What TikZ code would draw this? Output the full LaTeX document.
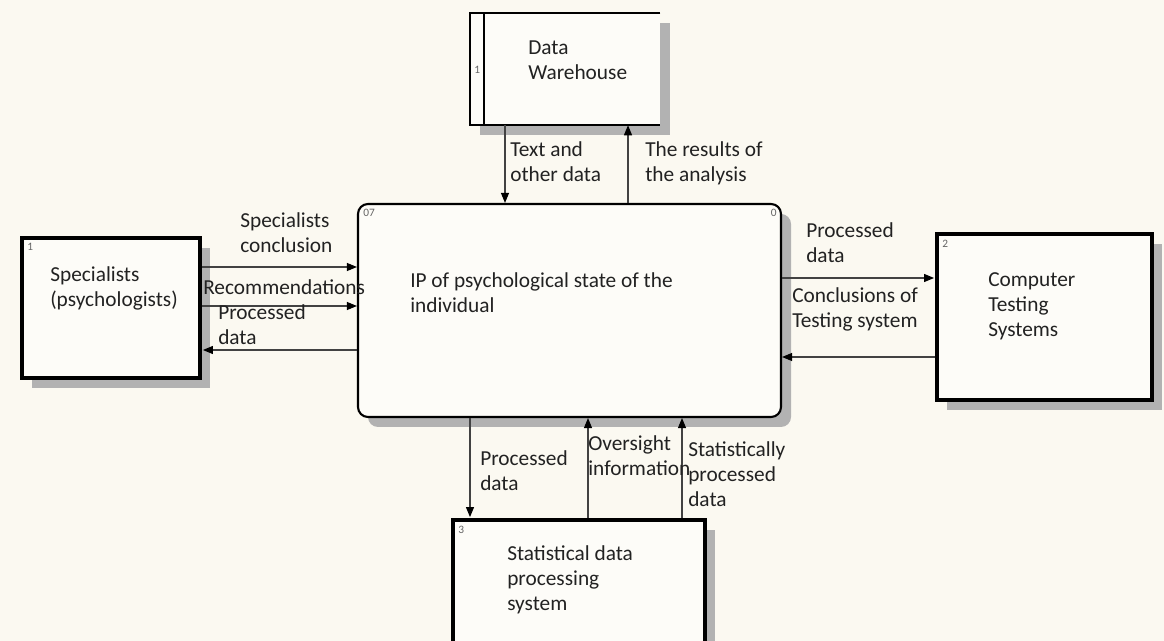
\documentclass[tikz,border=0pt]{standalone}
\usepackage{fontspec}
\setmainfont{Carlito}
\usetikzlibrary{arrows.meta,fit,shadows}
\definecolor{paper}{RGB}{251,249,241}
\definecolor{boxfill}{RGB}{253,252,248}
\definecolor{ink}{RGB}{34,34,34}
\definecolor{flowcol}{RGB}{66,66,66}
\definecolor{shade}{RGB}{178,178,178}
\definecolor{idcol}{RGB}{100,100,100}
\begin{document}
\begin{tikzpicture}[x=0.75pt,y=-0.75pt,
  boxshadow/.style={drop shadow={shadow xshift=7.5pt,shadow yshift=-7.5pt,fill=shade,opacity=1}},
  extbox/.style={inner sep=0pt,draw=black,line width=2.4pt,fill=boxfill,boxshadow},
  procbox/.style={inner sep=0pt,draw=black,line width=1.6pt,fill=boxfill,rounded corners=7.5pt,boxshadow},
  storebox/.style={inner sep=0pt,fill=boxfill,boxshadow},
  storeline/.style={draw=black,line width=1.2pt},
  flow/.style={draw=flowcol,line width=0.8pt,-{Triangle[length=7.5pt,width=6pt,color=black]}},
  % multi-line texts: the base anchor sits on the last line
  txt/.style={anchor=base west,inner sep=0pt,align=left,text=ink,font=\fontsize{16}{18.75}\selectfont},
  idtxt/.style={anchor=north west,inner sep=0pt,text=idcol,font=\fontsize{8.5}{9}\selectfont}]

% canvas
\useasboundingbox (0,0) rectangle (1164,641);
\clip (0,0) rectangle (1164,641);
\fill[paper] (0,0) rectangle (1164,641);

% corner points of the boxes
\coordinate (dwA) at (470,13);   \coordinate (dwB) at (660,125);
\coordinate (mnA) at (358,204);  \coordinate (mnB) at (781,417);
\coordinate (spA) at (22,238);   \coordinate (spB) at (200,378);
\coordinate (ctA) at (937,234);  \coordinate (ctB) at (1152,400);
\coordinate (stA) at (453,520);  \coordinate (stB) at (705,690);

% boxes
\node[storebox,fit=(dwA)(dwB)] (dw) {};
\draw[storeline] (dw.north east) -- (dw.north west) -- (dw.south west) -- (dw.south east);
\coordinate (dwx) at (484,0);
\draw[storeline] (dwx |- dw.north) -- (dwx |- dw.south);
\node[idtxt,anchor=west] (dwid) at (474,70) {1};
\node[txt] (dwtext) at (528,80) {Data\\Warehouse};

\node[procbox,fit=(mnA)(mnB)] (main) {};
\node[idtxt] (mainidl) at (363,209) {07};
\node[idtxt,anchor=north east] (mainidr) at (777,209) {0};
\node[txt] (maintext) at (410,313) {IP of psychological state of the\\individual};

\node[extbox,fit=(spA)(spB)] (spec) {};
\node[idtxt] (specid) at (27,243) {1};
\node[txt] (spectext) at (50,307) {Specialists\\(psychologists)};

\node[extbox,fit=(ctA)(ctB)] (cts) {};
\node[idtxt] (ctsid) at (942,240) {2};
\node[txt] (ctstext) at (988,337) {Computer\\Testing\\Systems};

\node[extbox,fit=(stA)(stB)] (stat) {};
\node[idtxt] (statid) at (458,526) {3};
\node[txt] (stattext) at (507,610) {Statistical data\\processing\\system};

% connector positions
\coordinate (xin)   at (505,0);
\coordinate (xout)  at (628,0);
\coordinate (ysc)   at (0,267);
\coordinate (yrec)  at (0,306);
\coordinate (yspd)  at (0,350);
\coordinate (ycpd)  at (0,278);
\coordinate (ycon)  at (0,357);
\coordinate (xspd)  at (470,0);
\coordinate (xovr)  at (588,0);
\coordinate (xstp)  at (682,0);

% connectors
\draw[flow] (xin |- dw.south) -- (xin |- main.north);
\draw[flow] (xout |- main.north) -- (xout |- dw.south);
\draw[flow] (spec.east |- ysc) -- (main.west |- ysc);
\draw[flow] (spec.east |- yrec) -- (main.west |- yrec);
\draw[flow] (main.west |- yspd) -- ([xshift=1pt]spec.east |- yspd);
\draw[flow] (main.east |- ycpd) -- ([xshift=-1pt]cts.west |- ycpd);
\draw[flow] (cts.west |- ycon) -- (main.east |- ycon);
\draw[flow] (xspd |- main.south) -- ([yshift=1pt]xspd |- stat.north);
\draw[flow] (xovr |- stat.north) -- (xovr |- main.south);
\draw[flow] (xstp |- stat.north) -- (xstp |- main.south);

% connector labels
\node[txt] (lin)  at (510,182) {Text and\\other data};
\node[txt] (lout) at (645,182) {The results of\\the analysis};
\node[txt] (lsc)  at (240,253) {Specialists\\conclusion};
\node[txt] (lrec) at (203,295) {Recommendations};
\node[txt] (lspd) at (218,345) {Processed\\data};
\node[txt] (lcpd) at (806,263) {Processed\\data};
\node[txt] (lcon) at (792,328) {Conclusions of\\Testing system};
\node[txt] (lstd) at (480,490) {Processed\\data};
\node[txt] (lovr) at (588,475) {Oversight\\information};
\node[txt] (lstp) at (688,507) {Statistically\\processed\\data};
\end{tikzpicture}
\end{document}
